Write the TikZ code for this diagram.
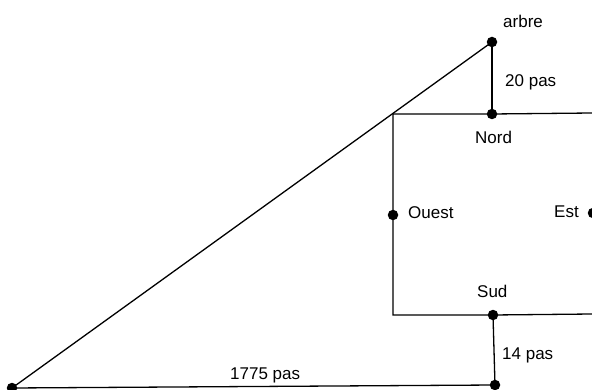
\documentclass[tikz,border=0pt]{standalone}
\usepackage{fontspec}
\setmainfont{Liberation Sans}
\begin{document}
\begin{tikzpicture}[x=1pt,y=-1pt,
  pt/.style={circle,fill=black,inner sep=0pt,minimum size=10.5pt},
  lbl/.style={font=\fontsize{17}{20}\selectfont,inner sep=0pt,anchor=base west},
  ln/.style={line width=1.3pt}]
\useasboundingbox (0,0) rectangle (592,390);
% points
\node[pt] (arbre) at (492,42) {};
\node[pt] (nord) at (492,114) {};
\node[pt] (ouest) at (393,215) {};
\node[pt] (est) at (593,213) {};
\node[pt] (sud) at (493,315) {};
\node[pt] (bas) at (495,385) {};
\node[pt] (A) at (12,388) {};
\coordinate (NW) at (393,114);
\coordinate (NE) at (592,113);
\coordinate (SW) at (393,315);
\coordinate (SE) at (592,314);
% lines
\draw[ln] (NE) -- (nord.center) -- (NW) -- (ouest.center) -- (SW) -- (sud.center) -- (SE);
\draw[ln] (A.center) -- (arbre.center);
\draw[ln] (arbre.center) -- (nord.center);
\draw[ln] (sud.center) -- (bas.center);
\draw[ln] (A.center) -- (bas.center);
% labels
\node[lbl] (tarbre) at (503,28) {arbre};
\node[lbl] (t20) at (505,87) {20 pas};
\node[lbl] (tnord) at (475,144) {Nord};
\node[lbl] (touest) at (408,219) {Ouest};
\node[lbl] (test) at (554,218) {Est};
\node[lbl] (tsud) at (477,298) {Sud};
\node[lbl] (t14) at (502,359) {14 pas};
\node[lbl] (t1775) at (230,379) {1775 pas};
\end{tikzpicture}
\end{document}
